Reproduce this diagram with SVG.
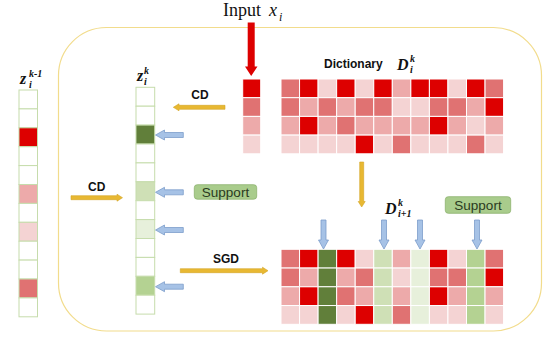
<svg xmlns="http://www.w3.org/2000/svg" width="554" height="344" viewBox="0 0 554 344">
<style>
.r{fill:#dd0000}.m{fill:#e07272}.p{fill:#edaaaa}.l{fill:#f4d3d3}.w{fill:#ffffff}
.dg{fill:#617f3a}.lg{fill:#cfe0b6}.vl{fill:#e7f0db}.mg{fill:#b4d292}
.dict rect{stroke:#ffffff;stroke-width:1}
.col rect{stroke:#c6dcac;stroke-width:1}
.gold{fill:#e8b832;stroke:#d3a424;stroke-width:0.6}
.blue{fill:#a6c2e6;stroke:#7c9dca;stroke-width:0.8}
.lbl{font-family:"Liberation Sans",Arial,sans-serif;font-weight:bold;font-size:12px;fill:#111}
.math{font-family:"Liberation Serif","Times New Roman",serif;font-style:italic;font-weight:bold;fill:#111}
.sup{font-family:"Liberation Sans",Arial,sans-serif;font-size:13.5px;fill:#2a3a1e;text-anchor:middle}
.box{fill:#a9cc8c;stroke:#8db36f;stroke-width:0.8}
</style>
<rect id="frame" x="58.5" y="27.5" width="483" height="303.5" rx="48" fill="none" stroke="#f2dc8c" stroke-width="1.2"/>

<g id="input-label">
<text x="223" y="16" font-family="Liberation Serif,'Times New Roman',serif" font-size="18" fill="#111">Input</text>
<text x="269" y="16" font-family="Liberation Serif,'Times New Roman',serif" font-style="italic" font-size="18" fill="#111">x</text>
<text x="279" y="21" font-family="Liberation Serif,'Times New Roman',serif" font-style="italic" font-size="12" fill="#111">i</text>
</g>

<g id="z-prev">
<text class="math" x="20" y="84" font-size="16">z</text>
<text class="math" x="29" y="77" font-size="10">k-1</text>
<text class="math" x="29" y="88" font-size="10">i</text>
<g class="col" transform="translate(19,90)">
<rect class="w" x="0" y="0" width="18.5" height="18.9"/>
<rect class="w" x="0" y="18.9" width="18.5" height="18.9"/>
<rect class="r" x="0" y="37.8" width="18.5" height="18.9"/>
<rect class="w" x="0" y="56.7" width="18.5" height="18.9"/>
<rect class="w" x="0" y="75.6" width="18.5" height="18.9"/>
<rect class="p" x="0" y="94.5" width="18.5" height="18.9"/>
<rect class="w" x="0" y="113.4" width="18.5" height="18.9"/>
<rect class="l" x="0" y="132.3" width="18.5" height="18.9"/>
<rect class="w" x="0" y="151.2" width="18.5" height="18.9"/>
<rect class="w" x="0" y="170.1" width="18.5" height="18.9"/>
<rect class="m" x="0" y="189" width="18.5" height="18.9"/>
<rect class="w" x="0" y="207.9" width="18.5" height="18.9"/>
</g>
</g>

<g id="z-k">
<text class="math" x="137" y="81" font-size="16">z</text>
<text class="math" x="144" y="74" font-size="10">k</text>
<text class="math" x="144" y="85" font-size="10">i</text>
<g class="col" transform="translate(136,87.3)">
<rect class="w" x="0" y="0" width="18.7" height="18.9"/>
<rect class="w" x="0" y="18.9" width="18.7" height="18.9"/>
<rect class="dg" x="0" y="37.8" width="18.7" height="18.9"/>
<rect class="w" x="0" y="56.7" width="18.7" height="18.9"/>
<rect class="w" x="0" y="75.6" width="18.7" height="18.9"/>
<rect class="lg" x="0" y="94.5" width="18.7" height="18.9"/>
<rect class="w" x="0" y="113.4" width="18.7" height="18.9"/>
<rect class="vl" x="0" y="132.3" width="18.7" height="18.9"/>
<rect class="w" x="0" y="151.2" width="18.7" height="18.9"/>
<rect class="w" x="0" y="170.1" width="18.7" height="18.9"/>
<rect class="mg" x="0" y="189" width="18.7" height="18.9"/>
<rect class="w" x="0" y="207.9" width="18.7" height="18.9"/>
</g>
</g>

<g id="input-x" class="dict" transform="translate(242.7,79)">
<rect class="r" x="0" y="0" width="18" height="18.7"/>
<rect class="m" x="0" y="18.7" width="18" height="18.7"/>
<rect class="p" x="0" y="37.4" width="18" height="18.7"/>
<rect class="l" x="0" y="56.1" width="18" height="18.7"/>
</g>

<g id="dict-k">
<text class="lbl" x="324" y="68" font-size="12.5">Dictionary</text>
<text class="math" x="397" y="70" font-size="16">D</text>
<text class="math" x="410" y="62" font-size="10">k</text>
<text class="math" x="410" y="73" font-size="10">i</text>
<g class="dict" transform="translate(281,79)">
<rect class="m" x="0" y="0" width="18.55" height="18.7"/><rect class="r" x="18.55" y="0" width="18.55" height="18.7"/><rect class="l" x="37.1" y="0" width="18.55" height="18.7"/><rect class="r" x="55.65" y="0" width="18.55" height="18.7"/><rect class="l" x="74.2" y="0" width="18.55" height="18.7"/><rect class="r" x="92.75" y="0" width="18.55" height="18.7"/><rect class="p" x="111.3" y="0" width="18.55" height="18.7"/><rect class="r" x="129.85" y="0" width="18.55" height="18.7"/><rect class="r" x="148.4" y="0" width="18.55" height="18.7"/><rect class="l" x="166.95" y="0" width="18.55" height="18.7"/><rect class="r" x="185.5" y="0" width="18.55" height="18.7"/><rect class="m" x="204.05" y="0" width="18.55" height="18.7"/>
<rect class="m" x="0" y="18.7" width="18.55" height="18.7"/><rect class="p" x="18.55" y="18.7" width="18.55" height="18.7"/><rect class="m" x="37.1" y="18.7" width="18.55" height="18.7"/><rect class="p" x="55.65" y="18.7" width="18.55" height="18.7"/><rect class="m" x="74.2" y="18.7" width="18.55" height="18.7"/><rect class="m" x="92.75" y="18.7" width="18.55" height="18.7"/><rect class="l" x="111.3" y="18.7" width="18.55" height="18.7"/><rect class="l" x="129.85" y="18.7" width="18.55" height="18.7"/><rect class="m" x="148.4" y="18.7" width="18.55" height="18.7"/><rect class="m" x="166.95" y="18.7" width="18.55" height="18.7"/><rect class="p" x="185.5" y="18.7" width="18.55" height="18.7"/><rect class="r" x="204.05" y="18.7" width="18.55" height="18.7"/>
<rect class="p" x="0" y="37.4" width="18.55" height="18.7"/><rect class="r" x="18.55" y="37.4" width="18.55" height="18.7"/><rect class="p" x="37.1" y="37.4" width="18.55" height="18.7"/><rect class="m" x="55.65" y="37.4" width="18.55" height="18.7"/><rect class="p" x="74.2" y="37.4" width="18.55" height="18.7"/><rect class="p" x="92.75" y="37.4" width="18.55" height="18.7"/><rect class="p" x="111.3" y="37.4" width="18.55" height="18.7"/><rect class="p" x="129.85" y="37.4" width="18.55" height="18.7"/><rect class="r" x="148.4" y="37.4" width="18.55" height="18.7"/><rect class="p" x="166.95" y="37.4" width="18.55" height="18.7"/><rect class="l" x="185.5" y="37.4" width="18.55" height="18.7"/><rect class="p" x="204.05" y="37.4" width="18.55" height="18.7"/>
<rect class="l" x="0" y="56.1" width="18.55" height="18.7"/><rect class="l" x="18.55" y="56.1" width="18.55" height="18.7"/><rect class="l" x="37.1" y="56.1" width="18.55" height="18.7"/><rect class="l" x="55.65" y="56.1" width="18.55" height="18.7"/><rect class="r" x="74.2" y="56.1" width="18.55" height="18.7"/><rect class="l" x="92.75" y="56.1" width="18.55" height="18.7"/><rect class="m" x="111.3" y="56.1" width="18.55" height="18.7"/><rect class="l" x="129.85" y="56.1" width="18.55" height="18.7"/><rect class="l" x="148.4" y="56.1" width="18.55" height="18.7"/><rect class="l" x="166.95" y="56.1" width="18.55" height="18.7"/><rect class="m" x="185.5" y="56.1" width="18.55" height="18.7"/><rect class="l" x="204.05" y="56.1" width="18.55" height="18.7"/>
</g>
</g>

<g id="dict-k1">
<text class="math" x="385" y="214" font-size="16">D</text>
<text class="math" x="398" y="206" font-size="10">k</text>
<text class="math" x="398" y="217" font-size="10">i+1</text>
<g class="dict" transform="translate(281,249.3)">
<rect class="m" x="0" y="0" width="18.55" height="18.75"/><rect class="r" x="18.55" y="0" width="18.55" height="18.75"/><rect class="dg" x="37.1" y="0" width="18.55" height="18.75"/><rect class="r" x="55.65" y="0" width="18.55" height="18.75"/><rect class="l" x="74.2" y="0" width="18.55" height="18.75"/><rect class="lg" x="92.75" y="0" width="18.55" height="18.75"/><rect class="p" x="111.3" y="0" width="18.55" height="18.75"/><rect class="vl" x="129.85" y="0" width="18.55" height="18.75"/><rect class="r" x="148.4" y="0" width="18.55" height="18.75"/><rect class="l" x="166.95" y="0" width="18.55" height="18.75"/><rect class="mg" x="185.5" y="0" width="18.55" height="18.75"/><rect class="m" x="204.05" y="0" width="18.55" height="18.75"/>
<rect class="m" x="0" y="18.75" width="18.55" height="18.75"/><rect class="p" x="18.55" y="18.75" width="18.55" height="18.75"/><rect class="dg" x="37.1" y="18.75" width="18.55" height="18.75"/><rect class="p" x="55.65" y="18.75" width="18.55" height="18.75"/><rect class="m" x="74.2" y="18.75" width="18.55" height="18.75"/><rect class="lg" x="92.75" y="18.75" width="18.55" height="18.75"/><rect class="l" x="111.3" y="18.75" width="18.55" height="18.75"/><rect class="vl" x="129.85" y="18.75" width="18.55" height="18.75"/><rect class="m" x="148.4" y="18.75" width="18.55" height="18.75"/><rect class="m" x="166.95" y="18.75" width="18.55" height="18.75"/><rect class="mg" x="185.5" y="18.75" width="18.55" height="18.75"/><rect class="r" x="204.05" y="18.75" width="18.55" height="18.75"/>
<rect class="p" x="0" y="37.5" width="18.55" height="18.75"/><rect class="r" x="18.55" y="37.5" width="18.55" height="18.75"/><rect class="dg" x="37.1" y="37.5" width="18.55" height="18.75"/><rect class="m" x="55.65" y="37.5" width="18.55" height="18.75"/><rect class="p" x="74.2" y="37.5" width="18.55" height="18.75"/><rect class="lg" x="92.75" y="37.5" width="18.55" height="18.75"/><rect class="p" x="111.3" y="37.5" width="18.55" height="18.75"/><rect class="vl" x="129.85" y="37.5" width="18.55" height="18.75"/><rect class="r" x="148.4" y="37.5" width="18.55" height="18.75"/><rect class="p" x="166.95" y="37.5" width="18.55" height="18.75"/><rect class="mg" x="185.5" y="37.5" width="18.55" height="18.75"/><rect class="p" x="204.05" y="37.5" width="18.55" height="18.75"/>
<rect class="l" x="0" y="56.25" width="18.55" height="18.75"/><rect class="l" x="18.55" y="56.25" width="18.55" height="18.75"/><rect class="dg" x="37.1" y="56.25" width="18.55" height="18.75"/><rect class="l" x="55.65" y="56.25" width="18.55" height="18.75"/><rect class="r" x="74.2" y="56.25" width="18.55" height="18.75"/><rect class="lg" x="92.75" y="56.25" width="18.55" height="18.75"/><rect class="m" x="111.3" y="56.25" width="18.55" height="18.75"/><rect class="vl" x="129.85" y="56.25" width="18.55" height="18.75"/><rect class="l" x="148.4" y="56.25" width="18.55" height="18.75"/><rect class="l" x="166.95" y="56.25" width="18.55" height="18.75"/><rect class="mg" x="185.5" y="56.25" width="18.55" height="18.75"/><rect class="l" x="204.05" y="56.25" width="18.55" height="18.75"/>
</g>
</g>

<g id="support-1">
<rect class="box" x="194.3" y="184.7" width="62.4" height="14.5" rx="3"/>
<text class="sup" x="225.5" y="196.8">Support</text>
</g>
<g id="support-2">
<rect class="box" x="445.3" y="196.7" width="65.4" height="16.6" rx="3"/>
<text class="sup" x="478" y="210">Support</text>
</g>

<g id="connectors">
<polygon id="input-arrow" fill="#dd0000" points="247.7,22.5 254.7,22.5 254.7,66.5 257.5,66.5 251.2,76 245,66.5 247.7,66.5"/>
<g id="cd-top">
<polygon class="gold" points="225,105.3 179,105.3 179,103.8 173.3,107.3 179,110.8 179,109.3 225,109.3"/>
<text class="lbl" x="200" y="99.3" text-anchor="middle">CD</text>
</g>
<g id="cd-mid">
<polygon class="gold" points="71,195.7 117,195.7 117,194.2 122.5,197.7 117,201.2 117,199.7 71,199.7"/>
<text class="lbl" x="96.7" y="190.7" text-anchor="middle">CD</text>
</g>
<g id="sgd">
<polygon class="gold" points="180.3,268.7 262.5,268.7 262.5,267.2 268,270.7 262.5,274.2 262.5,272.7 180.3,272.7"/>
<text class="lbl" x="226" y="263.3" text-anchor="middle">SGD</text>
</g>
<polygon id="update-arrow" class="gold" points="359.7,162 363.7,162 363.7,201.5 365.2,201.5 361.7,207 358.2,201.5 359.7,201.5"/>
<g id="support-arrows-z">
<polygon class="blue" points="155.5,135 164.5,130 164.5,132.5 183.3,132.5 183.3,137.5 164.5,137.5 164.5,140"/>
<polygon class="blue" points="155.5,192.3 164.5,187.3 164.5,189.8 183.3,189.8 183.3,194.8 164.5,194.8 164.5,197.3"/>
<polygon class="blue" points="155.5,230 164.5,225 164.5,227.5 183.3,227.5 183.3,232.5 164.5,232.5 164.5,235"/>
<polygon class="blue" points="155.5,286.7 164.5,281.7 164.5,284.2 183.3,284.2 183.3,289.2 164.5,289.2 164.5,291.7"/>
</g>
<g id="support-arrows-d">
<polygon class="blue" points="323.5,249 318.5,240 321,240 321,220 326,220 326,240 328.5,240"/>
<polygon class="blue" points="384,249 379,240 381.5,240 381.5,220 386.5,220 386.5,240 389,240"/>
<polygon class="blue" points="420,249 415,240 417.5,240 417.5,220 422.5,220 422.5,240 425,240"/>
<polygon class="blue" points="477,249 472,240 474.5,240 474.5,220 479.5,220 479.5,240 482,240"/>
</g>
</g>
</svg>
